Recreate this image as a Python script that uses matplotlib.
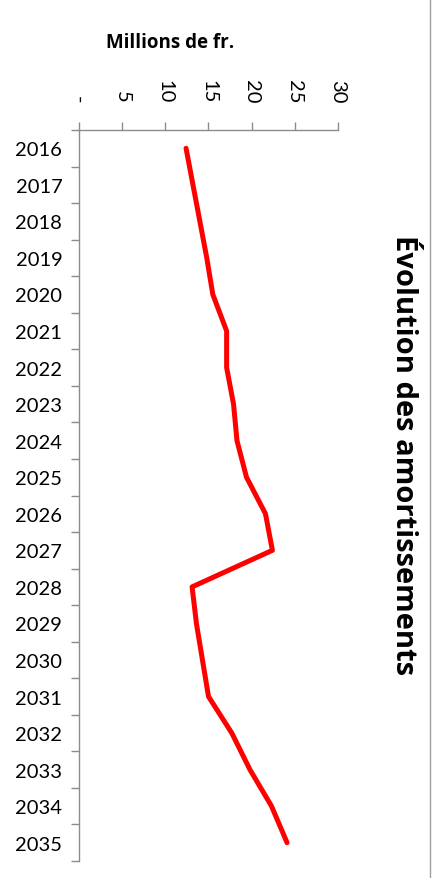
import matplotlib.pyplot as plt
from matplotlib.lines import Line2D

plt.rcParams['font.family'] = ['Lato', 'DejaVu Sans']

years = [str(y) for y in range(2016, 2036)]
amort = [12.4, 13.2, 14.0, 14.8, 15.5, 17.1, 17.1, 17.9, 18.3, 19.4,
         21.6, 22.4, 13.1, 13.6, 14.3, 15.0, 17.7, 19.8, 22.3, 24.1]
x_ticks = [0, 5, 10, 15, 20, 25, 30]
x_labels = ['-', '5', '10', '15', '20', '25', '30']

grey = '#8c8c8c'

fig = plt.figure(figsize=(4.39, 8.79), dpi=100)
ax = fig.add_axes([79 / 439, 1 - 862 / 879, (338 - 79) / 439, (862 - 131) / 879])

pos = list(range(len(years)))
ax.plot(amort, pos, color='#ff0000', lw=3.6, solid_capstyle='round', solid_joinstyle='round')

ax.set_xlim(0, 30)
ax.set_ylim(len(years) - 0.5, -0.5)

ax.xaxis.tick_top()
ax.set_xticks(x_ticks)
ax.set_xticklabels(x_labels, rotation=-90, fontsize=14.5)
ax.tick_params(axis='x', direction='out', length=6, width=1, color=grey, pad=14)

ax.set_yticks(pos)
ax.set_yticklabels(years, fontsize=14.5)
ax.set_yticks([p - 0.5 for p in pos] + [len(years) - 0.5], minor=True)
ax.tick_params(axis='y', which='major', length=0, pad=12)
ax.tick_params(axis='y', which='minor', direction='out', length=6, width=1, color=grey)

for s in ['right', 'bottom']:
    ax.spines[s].set_visible(False)
for s in ['left', 'top']:
    ax.spines[s].set_color(grey)
    ax.spines[s].set_linewidth(1)

fig.text(170 / 439, 1 - 43 / 879, 'Millions de fr.', fontsize=13.5, fontweight='bold',
         family=['Open Sans', 'DejaVu Sans'], ha='center', va='center')
fig.text(403 / 439, 1 - 455 / 879, 'Évolution des amortissements', fontsize=21,
         fontweight='bold', family=['Open Sans', 'DejaVu Sans'],
         rotation=-90, ha='center', va='center')

fig.add_artist(Line2D([430 / 439, 430 / 439], [0, 1], color='#a0a0a0', lw=1))

fig.savefig('out.png', dpi=100)
